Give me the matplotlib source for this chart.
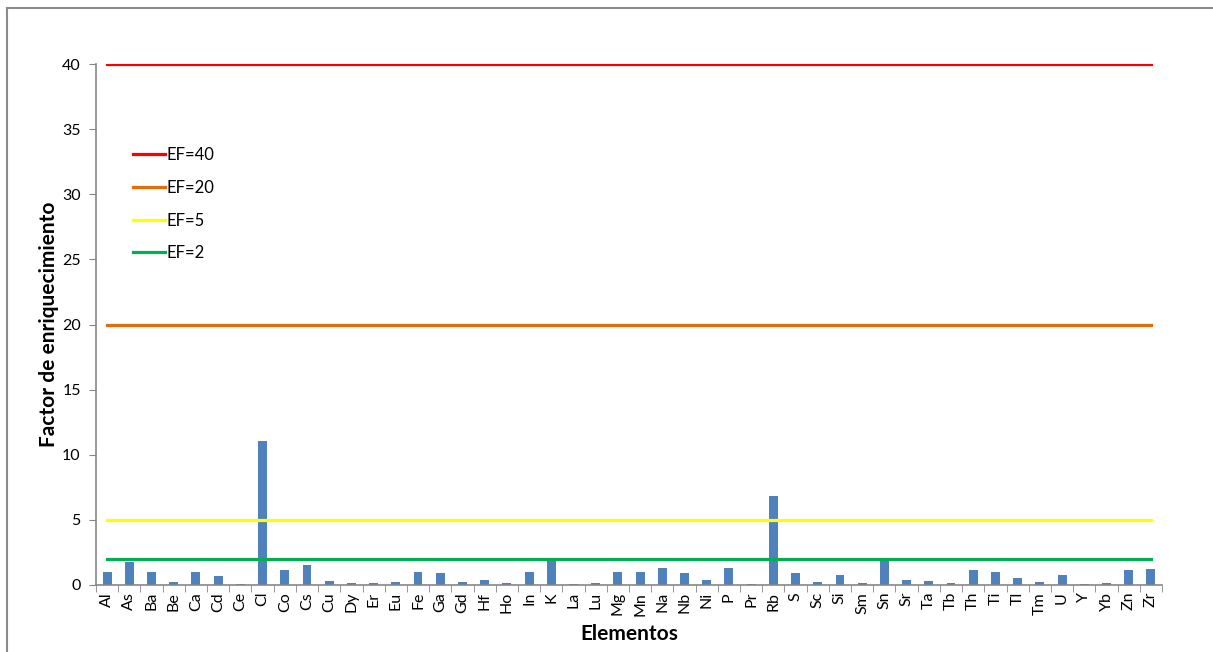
import numpy as np
import matplotlib
matplotlib.use('Agg')
from matplotlib import pyplot as plt
from matplotlib.lines import Line2D

plt.rcParams['font.family'] = ['Lato', 'DejaVu Sans']

elementos = ['Al', 'As', 'Ba', 'Be', 'Ca', 'Cd', 'Ce', 'Cl', 'Co', 'Cs', 'Cu', 'Dy',
             'Er', 'Eu', 'Fe', 'Ga', 'Gd', 'Hf', 'Ho', 'In', 'K', 'La', 'Lu', 'Mg',
             'Mn', 'Na', 'Nb', 'Ni', 'P', 'Pr', 'Rb', 'S', 'Sc', 'Si', 'Sm', 'Sn',
             'Sr', 'Ta', 'Tb', 'Th', 'Ti', 'Tl', 'Tm', 'U', 'Y', 'Yb', 'Zn', 'Zr']

ef_valores = [1.0, 1.8, 1.0, 0.23, 1.0, 0.7, 0.1, 11.05, 1.18, 1.56, 0.3, 0.13,
              0.13, 0.2, 1.0, 0.9, 0.2, 0.38, 0.13, 1.0, 1.87, 0.1, 0.13, 1.0,
              1.0, 1.3, 0.9, 0.38, 1.3, 0.1, 6.8, 0.9, 0.2, 0.8, 0.15, 1.85,
              0.41, 0.3, 0.13, 1.18, 1.0, 0.54, 0.2, 0.8, 0.08, 0.13, 1.18, 1.23]

umbrales = [40, 20, 5, 2]
umbral_labels = ['EF=40', 'EF=20', 'EF=5', 'EF=2']
umbral_colors = ['#FF0000', '#E46C0A', '#FFFF00', '#00B050']

axis_gray = '#868686'

fig = plt.figure(figsize=(12.13, 6.52), dpi=100)
ax = fig.add_axes([96/1213, 1 - 585/652, (1162 - 96)/1213, (585 - 64)/652])

x = np.arange(len(elementos))
ax.bar(x, ef_valores, width=0.4, color='#4F81BD', zorder=2)

for val, lab, col in zip(umbrales, umbral_labels, umbral_colors):
    ax.plot([x[0], x[-1]], [val, val], color=col, linewidth=2.3, label=lab, zorder=3)

ax.set_xlim(-0.5, len(elementos) - 0.5)
ax.set_ylim(0, 40)
ax.set_yticks(range(0, 41, 5))
ax.set_xticks(x)
ax.set_xticklabels(elementos, rotation=90, fontsize=11.5)
ax.set_xticks(np.arange(-0.5, len(elementos), 1), minor=True)
ax.tick_params(axis='x', which='major', length=0, pad=5)
ax.tick_params(axis='x', which='minor', length=5, color=axis_gray, direction='out')
ax.tick_params(axis='y', length=5, color=axis_gray, labelsize=11.5, pad=6)

for s in ['top', 'right']:
    ax.spines[s].set_visible(False)
for s in ['left', 'bottom']:
    ax.spines[s].set_color(axis_gray)
    ax.spines[s].set_linewidth(1.2)

ax.set_xlabel('Elementos', fontsize=15, fontweight='bold', labelpad=6)
ax.set_ylabel('Factor de enriquecimiento', fontsize=15, fontweight='bold', labelpad=2)

leg = ax.legend(loc='upper left', bbox_to_anchor=(0.021, 0.869), frameon=False,
                fontsize=12, handlelength=1.9, handletextpad=0.1, labelspacing=1.0)

# chart area border (left and top visible)
fig.add_artist(Line2D([7/1213, 7/1213], [0, 1 - 8/652], color='#8C8C8C', linewidth=1.5))
fig.add_artist(Line2D([7/1213, 1], [1 - 8/652, 1 - 8/652], color='#8C8C8C', linewidth=1.5))

plt.savefig('out.png', dpi=100)
plt.close()
